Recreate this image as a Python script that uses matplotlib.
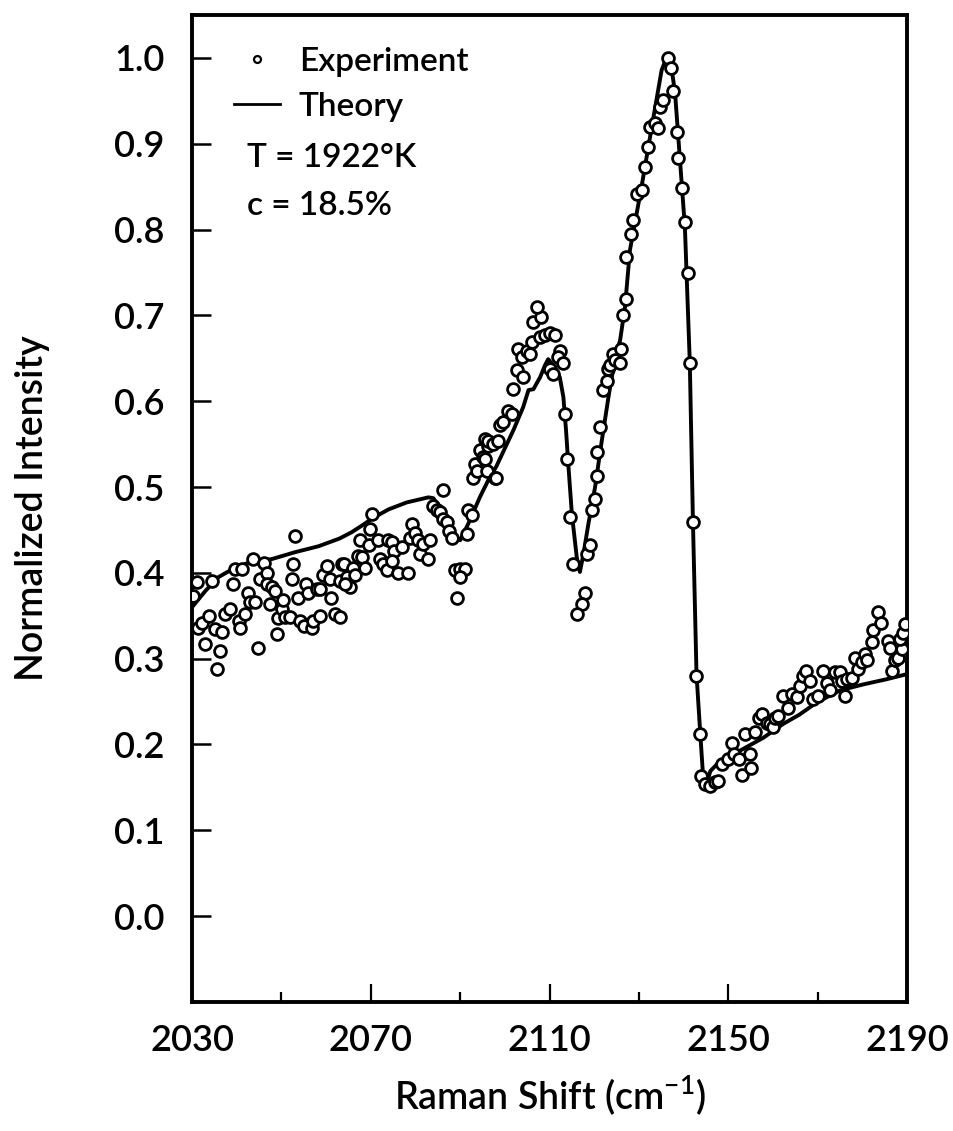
import matplotlib
matplotlib.use("Agg")
import matplotlib.pyplot as plt
from matplotlib.lines import Line2D

plt.rcParams['font.family'] = ['Lato', 'DejaVu Sans']
plt.rcParams['font.weight'] = 'semibold'
plt.rcParams['axes.labelweight'] = 'semibold'
plt.rcParams['mathtext.fontset'] = 'custom'
plt.rcParams['mathtext.rm'] = 'Lato:semibold'

# theory curve
theory_x = [2030.0, 2033.0, 2035.9, 2039.6, 2043.3, 2047.8, 2053.0, 2058.3,
            2063.0, 2065.6, 2068.0, 2070.5, 2074.0, 2078.0, 2082.9, 2084.0,
            2086.2, 2088.1, 2089.2, 2090.0, 2091.8, 2094.4, 2096.3, 2098.1,
            2101.9, 2104.1, 2105.3, 2106.4, 2107.9, 2109.0, 2109.7, 2110.8,
            2112.3, 2113.1, 2113.7, 2114.2, 2115.0, 2116.1, 2116.8, 2117.6,
            2118.7, 2120.2, 2121.7, 2123.2, 2124.6, 2125.8, 2126.9, 2128.0,
            2130.6, 2132.9, 2135.1, 2136.2, 2137.0, 2138.1, 2139.2, 2140.3,
            2141.4, 2142.1, 2142.9, 2143.7, 2144.4, 2145.2, 2146.0, 2148.2,
            2152.7, 2157.9, 2162.3, 2166.0, 2169.8, 2175.0, 2180.2, 2185.4,
            2190.0]
theory_y = [0.360, 0.379, 0.395, 0.406, 0.413, 0.416, 0.424, 0.431,
            0.440, 0.447, 0.455, 0.464, 0.474, 0.482, 0.488, 0.487,
            0.471, 0.453, 0.441, 0.438, 0.457, 0.488, 0.508, 0.524,
            0.566, 0.593, 0.613, 0.614, 0.628, 0.642, 0.649, 0.642,
            0.628, 0.605, 0.566, 0.527, 0.469, 0.418, 0.401, 0.422,
            0.457, 0.500, 0.554, 0.605, 0.648, 0.671, 0.710, 0.776,
            0.850, 0.920, 0.986, 1.000, 1.000, 0.959, 0.881, 0.803,
            0.645, 0.460, 0.282, 0.216, 0.161, 0.155, 0.169, 0.181,
            0.193, 0.208, 0.224, 0.235, 0.249, 0.263, 0.270, 0.276,
            0.282]

# experimental points
exp_x = [2031.0, 2030.3, 2034.4, 2031.4, 2032.2, 2033.7, 2032.9, 2035.1,
         2036.6, 2036.3, 2035.5, 2037.4, 2038.5, 2039.2, 2039.6, 2041.1,
         2040.4, 2040.7, 2041.9, 2042.6, 2043.0, 2043.7, 2044.1, 2044.8,
         2045.2, 2046.0, 2046.7, 2046.7, 2047.5, 2047.8, 2048.6, 2049.0,
         2049.3, 2050.1, 2050.4, 2050.8, 2051.9, 2053.0, 2052.7, 2052.3,
         2054.2, 2055.0, 2053.8, 2055.6, 2056.0, 2056.8, 2057.1, 2057.9,
         2058.6, 2058.6, 2059.4, 2060.1, 2061.2, 2060.9, 2062.0, 2063.1,
         2063.5, 2063.9, 2066.1, 2064.6, 2066.5, 2065.4, 2064.2, 2063.1,
         2067.6, 2069.5, 2067.2, 2068.0, 2068.7, 2070.2, 2069.8, 2071.7,
         2072.1, 2072.8, 2073.6, 2073.9, 2074.7, 2075.1, 2074.7, 2076.2,
         2076.9, 2078.4, 2079.2, 2078.8, 2079.9, 2080.6, 2081.0, 2081.8,
         2082.9, 2083.3, 2086.2, 2084.0, 2084.8, 2085.5, 2086.2, 2087.0,
         2087.4, 2088.1, 2088.8, 2090.0, 2091.1, 2090.0, 2089.2, 2091.5,
         2091.8, 2092.6, 2092.9, 2093.3, 2093.7, 2094.4, 2095.2, 2095.9,
         2096.3, 2097.8, 2095.6, 2096.3, 2097.4, 2098.5, 2095.6, 2098.1,
         2098.9, 2099.7, 2100.8, 2101.5, 2101.9, 2102.7, 2104.1, 2103.0,
         2103.8, 2104.9, 2105.6, 2106.0, 2106.4, 2108.2, 2107.1, 2107.9,
         2109.0, 2110.1, 2111.2, 2112.3, 2111.9, 2113.1, 2110.1, 2110.8,
         2113.4, 2114.0, 2114.6, 2115.3, 2117.9, 2117.2, 2116.1, 2118.3,
         2119.1, 2119.4, 2120.2, 2120.6, 2120.6, 2121.3, 2122.0, 2122.8,
         2123.2, 2123.5, 2124.3, 2124.6, 2125.8, 2126.1, 2126.5, 2127.2,
         2127.2, 2128.3, 2128.7, 2129.5, 2130.6, 2131.4, 2132.1, 2132.5,
         2133.6, 2134.3, 2134.7, 2135.5, 2136.6, 2137.3, 2137.7, 2138.5,
         2138.8, 2139.6, 2140.3, 2141.0, 2141.4, 2142.1, 2142.7, 2143.7,
         2144.0, 2144.8, 2145.9, 2147.0, 2147.8, 2148.5, 2150.0, 2150.8,
         2151.2, 2152.3, 2153.0, 2153.7, 2154.9, 2155.2, 2156.0, 2156.8,
         2157.5, 2158.6, 2159.3, 2160.1, 2160.5, 2161.2, 2162.3, 2163.4,
         2164.2, 2165.3, 2166.0, 2166.8, 2167.5, 2168.3, 2169.0, 2170.1,
         2171.2, 2172.0, 2172.8, 2173.9, 2175.0, 2175.4, 2176.1, 2176.5,
         2177.6, 2178.4, 2179.1, 2179.9, 2180.6, 2181.0, 2182.1, 2182.5,
         2183.6, 2184.3, 2185.8, 2186.2, 2186.6, 2187.3, 2188.0, 2188.8,
         2188.4, 2189.1, 2189.5]
exp_y = [0.389, 0.373, 0.391, 0.336, 0.341, 0.350, 0.317, 0.335,
         0.331, 0.309, 0.288, 0.352, 0.358, 0.387, 0.405, 0.405,
         0.344, 0.336, 0.352, 0.377, 0.366, 0.416, 0.366, 0.313,
         0.393, 0.412, 0.400, 0.387, 0.364, 0.383, 0.379, 0.329,
         0.347, 0.358, 0.368, 0.348, 0.348, 0.443, 0.410, 0.393,
         0.344, 0.338, 0.371, 0.387, 0.377, 0.336, 0.344, 0.381,
         0.381, 0.350, 0.397, 0.408, 0.371, 0.393, 0.352, 0.391,
         0.410, 0.410, 0.406, 0.395, 0.397, 0.383, 0.387, 0.348,
         0.438, 0.432, 0.420, 0.418, 0.406, 0.469, 0.451, 0.438,
         0.416, 0.410, 0.403, 0.438, 0.436, 0.426, 0.414, 0.400,
         0.430, 0.400, 0.457, 0.441, 0.447, 0.438, 0.422, 0.434,
         0.416, 0.438, 0.496, 0.478, 0.473, 0.471, 0.463, 0.459,
         0.449, 0.441, 0.403, 0.404, 0.404, 0.395, 0.371, 0.445,
         0.473, 0.467, 0.511, 0.527, 0.519, 0.543, 0.535, 0.519,
         0.548, 0.511, 0.556, 0.554, 0.550, 0.554, 0.533, 0.511,
         0.572, 0.576, 0.589, 0.585, 0.614, 0.636, 0.628, 0.661,
         0.651, 0.659, 0.655, 0.669, 0.692, 0.698, 0.710, 0.675,
         0.677, 0.679, 0.677, 0.659, 0.651, 0.644, 0.638, 0.632,
         0.585, 0.533, 0.465, 0.410, 0.377, 0.364, 0.352, 0.422,
         0.432, 0.473, 0.486, 0.513, 0.541, 0.570, 0.613, 0.624,
         0.638, 0.642, 0.655, 0.648, 0.644, 0.661, 0.700, 0.719,
         0.768, 0.795, 0.811, 0.842, 0.846, 0.873, 0.896, 0.920,
         0.924, 0.918, 0.943, 0.951, 1.000, 0.988, 0.961, 0.914,
         0.883, 0.848, 0.809, 0.749, 0.645, 0.459, 0.280, 0.212,
         0.163, 0.154, 0.152, 0.156, 0.158, 0.177, 0.183, 0.202,
         0.189, 0.183, 0.165, 0.212, 0.189, 0.173, 0.214, 0.231,
         0.235, 0.225, 0.224, 0.220, 0.231, 0.233, 0.257, 0.243,
         0.259, 0.255, 0.268, 0.280, 0.286, 0.274, 0.253, 0.257,
         0.286, 0.272, 0.263, 0.284, 0.284, 0.274, 0.257, 0.276,
         0.278, 0.301, 0.288, 0.296, 0.305, 0.298, 0.319, 0.334,
         0.354, 0.342, 0.321, 0.313, 0.286, 0.298, 0.301, 0.311,
         0.323, 0.330, 0.340]

x_major = [2030, 2070, 2110, 2150, 2190]
x_minor = [2050, 2090, 2130, 2170]
y_ticks = [0.0, 0.1, 0.2, 0.3, 0.4, 0.5, 0.6, 0.7, 0.8, 0.9, 1.0]

fig = plt.figure(figsize=(9.54, 11.31), dpi=100)
ax = fig.add_axes([0.2013, 0.1141, 0.7494, 0.8726])

ax.plot(exp_x, exp_y, linestyle='none', marker='o', markersize=8.5,
        markerfacecolor='white', markeredgecolor='black', markeredgewidth=2.0,
        label='Experiment', zorder=3)
ax.plot(theory_x, theory_y, color='black', linewidth=2.8, label='Theory',
        zorder=2)

ax.set_xlim(2030, 2190)
ax.set_ylim(-0.10, 1.05)

ax.set_xticks(x_major)
ax.set_xticks(x_minor, minor=True)
ax.set_xticklabels([str(v) for v in x_major])
ax.set_yticks(y_ticks)
ax.set_yticklabels(['%.1f' % v for v in y_ticks])

ax.tick_params(axis='x', which='major', direction='in', length=13, width=1.6,
               labelsize=26, pad=16)
ax.tick_params(axis='x', which='minor', direction='in', length=7, width=1.6)
ax.tick_params(axis='y', which='major', direction='in', length=14, width=1.8,
               labelsize=26, pad=20)
for s in ax.spines.values():
    s.set_linewidth(2.8)

ax.set_xlabel('Raman Shift (cm$^{-1}$)', fontsize=27, labelpad=12)
ax.set_ylabel('Normalized Intensity', fontsize=27, labelpad=46)

handles = [Line2D([], [], linestyle='none', marker='o', markersize=5,
                  markerfacecolor='white', markeredgecolor='black',
                  markeredgewidth=1.6),
           Line2D([], [], color='black', linewidth=2.0)]
ax.legend(handles, ['Experiment', 'Theory'], loc='upper left',
          bbox_to_anchor=(0.035, 0.985), frameon=False, fontsize=24,
          handlelength=1.4, handletextpad=0.55, borderpad=0, labelspacing=0.45)

ax.text(0.077, 0.855, 'T = 1922°K', transform=ax.transAxes, fontsize=24,
        va='center', ha='left')
ax.text(0.077, 0.807, 'c = 18.5%', transform=ax.transAxes, fontsize=24,
        va='center', ha='left')

fig.savefig('out.png', dpi=100)
